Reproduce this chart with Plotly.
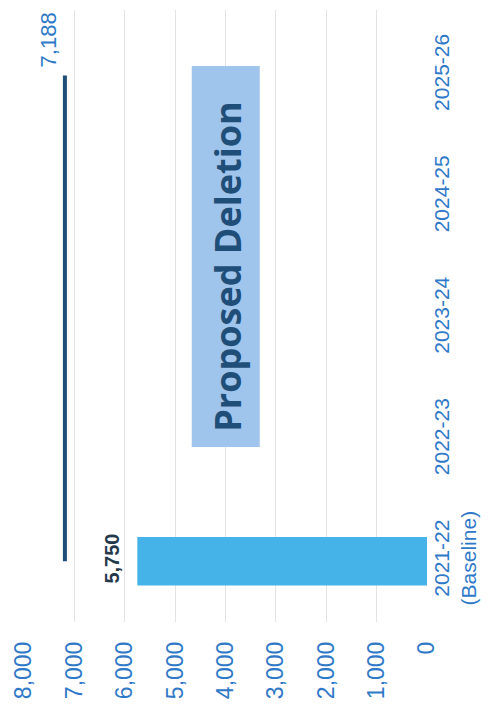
import plotly.graph_objects as go

categories = ["2021-22<br>(Baseline)", "2022-23", "2023-24", "2024-25", "2025-26"]
bar_values = [5750, None, None, None, None]
line_values = [7188, 7188, 7188, 7188, 7188]
value_ticks = [0, 1000, 2000, 3000, 4000, 5000, 6000, 7000, 8000]
value_tick_labels = ["0", "1,000", "2,000", "3,000", "4,000", "5,000", "6,000", "7,000", "8,000"]

TICK_BLUE = "#2f79c8"
NAVY = "#1f4e79"

fig = go.Figure()
fig.add_trace(go.Bar(
    y=categories, x=bar_values, orientation="h",
    marker=dict(color="#45b3e7", line=dict(width=0)),
    width=0.4, showlegend=False, hoverinfo="skip",
))
fig.add_trace(go.Scatter(
    y=categories, x=line_values, mode="lines",
    line=dict(color=NAVY, width=4), showlegend=False, hoverinfo="skip",
))

fig.add_annotation(
    x=bar_values[0], y=categories[0], xref="x", yref="y",
    text="5,750", textangle=-90, showarrow=False,
    xanchor="center", yanchor="middle", xshift=-25, yshift=3,
    font=dict(family="Liberation Sans, Arial", size=20, color="#24384c", weight="bold"),
)
fig.add_annotation(
    x=line_values[-1], y=categories[-1], xref="x", yref="y",
    text="7,188", textangle=-90, showarrow=False,
    xanchor="center", yanchor="middle", xshift=-16, yshift=36,
    font=dict(family="Liberation Sans, Arial", size=22, color=TICK_BLUE),
)
# highlight box
fig.add_annotation(
    x=0.501, y=0.597, xref="paper", yref="paper",
    text=" ", textangle=-90, showarrow=False,
    xanchor="center", yanchor="middle",
    width=380, height=67, bgcolor="#9fc5ec", borderpad=0,
    font=dict(family="Open Sans", size=35, color=NAVY),
)
fig.add_annotation(
    x=0.503, y=0.580, xref="paper", yref="paper",
    text="Proposed Deletion", textangle=-90, showarrow=False,
    xanchor="center", yanchor="middle",
    font=dict(family="Open Sans", size=36, color=NAVY, weight="bold"),
)

fig.update_xaxes(
    range=[8000, 0], tickmode="array", tickvals=value_ticks, ticktext=value_tick_labels,
    tickangle=-90, showgrid=True, gridcolor="#e3e3e3", gridwidth=1,
    zeroline=False, showline=False, ticks="", ticklabelstandoff=14,
    tickfont=dict(family="Liberation Sans, Arial", size=23, color=TICK_BLUE),
)
fig.update_yaxes(
    side="right", type="category", categoryorder="array", categoryarray=categories,
    tickangle=-90, showgrid=False, zeroline=False, showline=False, ticks="",
    tickfont=dict(family="Liberation Sans, Arial", size=21, color=TICK_BLUE),
)
fig.update_layout(
    width=490, height=709,
    margin=dict(l=20, r=58, t=10, b=84),
    plot_bgcolor="white", paper_bgcolor="white",
    bargap=0.6,
)
fig.write_html("out.html")
